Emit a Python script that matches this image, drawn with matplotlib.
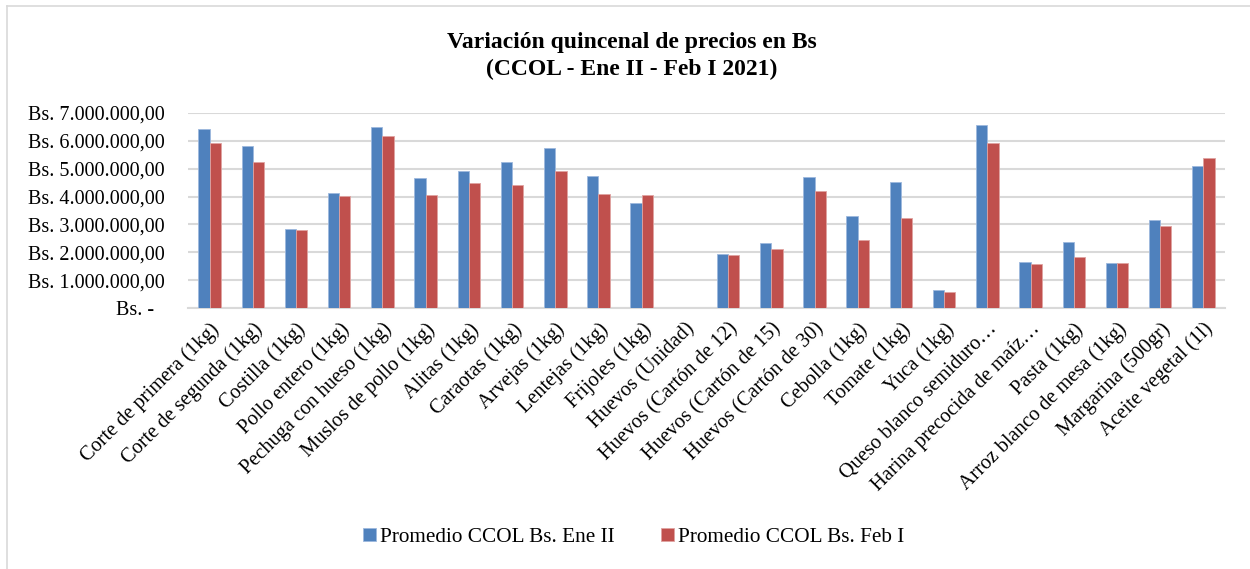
import matplotlib
matplotlib.use("Agg")
import matplotlib.pyplot as plt
import numpy as np
from matplotlib.ticker import FuncFormatter, MultipleLocator
from matplotlib.lines import Line2D

plt.rcParams['font.family'] = ['Liberation Serif', 'DejaVu Serif']

categories = [
    "Corte de primera (1kg)", "Corte de segunda (1kg)", "Costilla (1kg)",
    "Pollo entero (1kg)", "Pechuga con hueso (1kg)", "Muslos de pollo (1kg)",
    "Alitas (1kg)", "Caraotas (1kg)", "Arvejas (1kg)", "Lentejas (1kg)",
    "Frijoles (1kg)", "Huevos (Unidad)", "Huevos (Cartón de 12)",
    "Huevos (Cartón de 15)", "Huevos (Cartón de 30)", "Cebolla (1kg)",
    "Tomate (1kg)", "Yuca (1kg)", "Queso blanco semiduro…",
    "Harina precocida de maíz…", "Pasta (1kg)", "Arroz blanco de mesa (1kg)",
    "Margarina (500gr)", "Aceite vegetal (1l)",
]
ene_ii = [6400000, 5810000, 2850000, 4140000, 6490000, 4650000,
          4910000, 5220000, 5720000, 4730000, 3760000, 0, 1940000,
          2330000, 4690000, 3290000, 4530000, 640000, 6560000,
          1670000, 2360000, 1610000, 3160000, 5080000]
feb_i = [5900000, 5230000, 2800000, 4030000, 6170000, 4040000,
         4470000, 4400000, 4910000, 4100000, 4040000, 0, 1920000,
         2130000, 4190000, 2460000, 3230000, 580000, 5900000,
         1590000, 1840000, 1610000, 2950000, 5380000]
series_names = ["Promedio CCOL Bs. Ene II", "Promedio CCOL Bs. Feb I"]
colors = ["#4F81BD", "#C0504D"]

fig = plt.figure(figsize=(12.5, 5.69), dpi=100)
ax = fig.add_axes([0.1504, 0.4582, 0.8296, 0.3438])

x = np.arange(len(categories))
w = 0.26
ax.bar(x - w / 2, ene_ii, width=w, color=colors[0], edgecolor="#9db8de", linewidth=0.6, label=series_names[0], zorder=3)
ax.bar(x + w / 2, feb_i, width=w, color=colors[1], edgecolor="#e0a3a1", linewidth=0.6, label=series_names[1], zorder=3)

ax.set_xlim(-0.5, len(categories) - 0.5)
ax.set_ylim(0, 7000000)
ax.yaxis.set_major_locator(MultipleLocator(1000000))


def fmt(v, pos):
    if v == 0:
        return "Bs. -  "
    s = f"{v:,.2f}".replace(",", "X").replace(".", ",").replace("X", ".")
    return "Bs. " + s


ax.yaxis.set_major_formatter(FuncFormatter(fmt))
ax.grid(axis="y", color="#d9d9d9", linewidth=1.5, zorder=0)
for s in ["top", "right", "left"]:
    ax.spines[s].set_visible(False)
ax.spines["bottom"].set_color("#d9d9d9")
ax.spines["bottom"].set_linewidth(1.5)
ax.tick_params(axis="both", length=0, colors="#000000")
ax.tick_params(axis="y", pad=17, labelsize=14.5)
ax.set_xticks(x)
ax.set_xticklabels(categories, rotation=45, ha="right", va="top",
                   rotation_mode="anchor", fontsize=14.7)
ax.tick_params(axis="x", pad=8)

fig.text(0.5056, 0.901, "Variación quincenal de precios en Bs\n(CCOL - Ene II - Feb I 2021)",
         ha="center", va="center", fontsize=17, fontweight="bold", linespacing=1.38)

ax.legend(loc="center", bbox_to_anchor=(0.507, 0.056), bbox_transform=fig.transFigure,
          ncol=2, frameon=False, fontsize=15.3, handlelength=0.6, handleheight=0.6,
          handletextpad=0.2, columnspacing=2.2)

fig.add_artist(Line2D([0.0056, 0.0056], [0.0, 0.989], transform=fig.transFigure,
                      color="#d9d9d9", linewidth=1.2))
fig.add_artist(Line2D([0.0056, 1.0], [0.989, 0.989], transform=fig.transFigure,
                      color="#d9d9d9", linewidth=1.2))

fig.savefig("out.png", dpi=100)
